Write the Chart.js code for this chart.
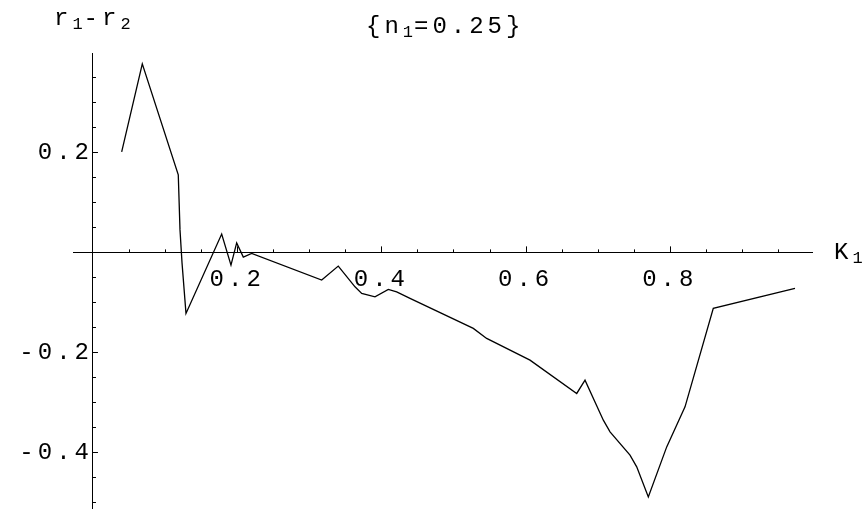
<!DOCTYPE html>
<html>
<head>
<meta charset="utf-8">
<script src="https://cdn.jsdelivr.net/npm/chart.js@4/dist/chart.umd.min.js"></script>
<style>
  html, body { margin: 0; padding: 0; background: #fff; }
  #wrap { width: 867px; height: 511px; position: relative; }
</style>
</head>
<body>
<div id="wrap"><canvas id="c"></canvas></div>
<script>
// K1 sample positions and the corresponding r1 - r2 values (n1 = 0.25)
const k1Values = [
  0.0398, 0.0684, 0.1183, 0.1207, 0.1235, 0.1290, 0.1785, 0.1914, 0.1993,
  0.2085, 0.2201, 0.3172, 0.3402, 0.3634, 0.3727, 0.3911, 0.4096, 0.4212,
  0.4397, 0.5275, 0.5460, 0.6061, 0.6709, 0.6824, 0.7078, 0.7171, 0.7448,
  0.7541, 0.7702, 0.7957, 0.8211, 0.8603, 0.9736
];
const diffValues = [
  0.201, 0.377, 0.155, 0.045, -0.021, -0.122, 0.0366, -0.0254, 0.019,
  -0.0094, -0.002, -0.0554, -0.0274, -0.0688, -0.082, -0.0888, -0.074, -0.0788,
  -0.092, -0.152, -0.172, -0.2154, -0.282, -0.2554, -0.3354, -0.3588, -0.4054,
  -0.4288, -0.4888, -0.3888, -0.3088, -0.112, -0.072
];
const xTickLabels = ['0.2', '0.4', '0.6', '0.8'];
const yTickLabels = ['-0.4', '-0.2', '0.2'];

const MONO = '"Liberation Mono", "DejaVu Sans Mono", monospace';
const SPACING = '4px';

const isMajor = v => Math.abs(v * 5 - Math.round(v * 5)) < 1e-6;
const labelFor = (list) => (v) => {
  if (!isMajor(v)) return '';
  const s = (Math.round(v * 10) / 10).toFixed(1);
  return list.includes(s) ? s : '';
};

// draw a string made of normal and subscript runs
function drawRuns(ctx, runs, x, y) {
  let cx = x;
  for (const r of runs) {
    ctx.font = (r.sub ? '17px ' : '24px ') + MONO;
    ctx.letterSpacing = r.sub ? '1px' : SPACING;
    ctx.fillText(r.t, cx, y + (r.sub ? 4 : 0));
    cx += ctx.measureText(r.t).width;
  }
}

const spacingPlugin = {
  id: 'spacing',
  beforeLayout(chart) { chart.ctx.letterSpacing = SPACING; },
  beforeDraw(chart) { chart.ctx.letterSpacing = SPACING; }
};

const decorPlugin = {
  id: 'decor',
  afterDraw(chart) {
    const ctx = chart.ctx;
    const xs = chart.scales.x, ys = chart.scales.y;
    const x0 = xs.getPixelForValue(0), y0 = ys.getPixelForValue(0);
    ctx.save();
    ctx.strokeStyle = '#000';
    ctx.lineWidth = 1;
    ctx.beginPath();
    for (const t of xs.ticks) {
      if (Math.abs(t.value) < 1e-9) continue;
      const px = Math.round(xs.getPixelForValue(t.value)) + 0.5;
      const len = isMajor(t.value) ? 6 : 3;
      ctx.moveTo(px, y0);
      ctx.lineTo(px, y0 - len);
    }
    for (const t of ys.ticks) {
      if (Math.abs(t.value) < 1e-9) continue;
      const py = Math.round(ys.getPixelForValue(t.value)) + 0.5;
      const len = isMajor(t.value) ? 5 : 3;
      ctx.moveTo(x0, py);
      ctx.lineTo(x0 + len, py);
    }
    ctx.stroke();

    ctx.fillStyle = '#000';
    ctx.textBaseline = 'alphabetic';
    ctx.textAlign = 'left';
    drawRuns(ctx, [{t: 'r'}, {t: '1', sub: true}, {t: '-r'}, {t: '2', sub: true}], 54, 25);
    drawRuns(ctx, [{t: '{n'}, {t: '1', sub: true}, {t: '=0.25}'}], 366, 33);
    drawRuns(ctx, [{t: 'K'}, {t: '1', sub: true}], 834, 259);
    ctx.restore();
  }
};

new Chart(document.getElementById('c'), {
  type: 'line',
  data: {
    datasets: [{
      data: k1Values.map((k, i) => ({ x: k, y: diffValues[i] })),
      borderColor: '#000',
      borderWidth: 1.3,
      pointRadius: 0,
      tension: 0,
      fill: false
    }]
  },
  options: {
    responsive: true,
    maintainAspectRatio: false,
    animation: false,
    layout: { padding: { left: 73, right: 55, top: 53, bottom: 3 } },
    plugins: { legend: { display: false }, tooltip: { enabled: false } },
    scales: {
      x: {
        type: 'linear',
        min: -0.0277,
        max: 0.9972,
        position: { y: 0 },
        grid: { display: true, drawOnChartArea: false, drawTicks: false },
        border: { display: true, color: '#000', width: 1 },
        afterFit(s) { s.paddingLeft = 0; s.paddingRight = 0; },
        ticks: {
          stepSize: 0.05,
          includeBounds: false,
          autoSkip: false,
          maxRotation: 0,
          padding: 13,
          color: '#000',
          font: { family: MONO, size: 24 },
          callback: labelFor(xTickLabels)
        }
      },
      y: {
        type: 'linear',
        min: -0.511,
        max: 0.3986,
        position: { x: 0 },
        grid: { display: true, drawOnChartArea: false, drawTicks: false },
        border: { display: true, color: '#000', width: 1 },
        afterFit(s) { s.paddingTop = 0; s.paddingBottom = 0; },
        ticks: {
          stepSize: 0.05,
          includeBounds: false,
          autoSkip: false,
          padding: 12,
          color: '#000',
          font: { family: MONO, size: 24 },
          callback: labelFor(yTickLabels)
        }
      }
    }
  },
  plugins: [spacingPlugin, decorPlugin]
});
</script>
</body>
</html>
